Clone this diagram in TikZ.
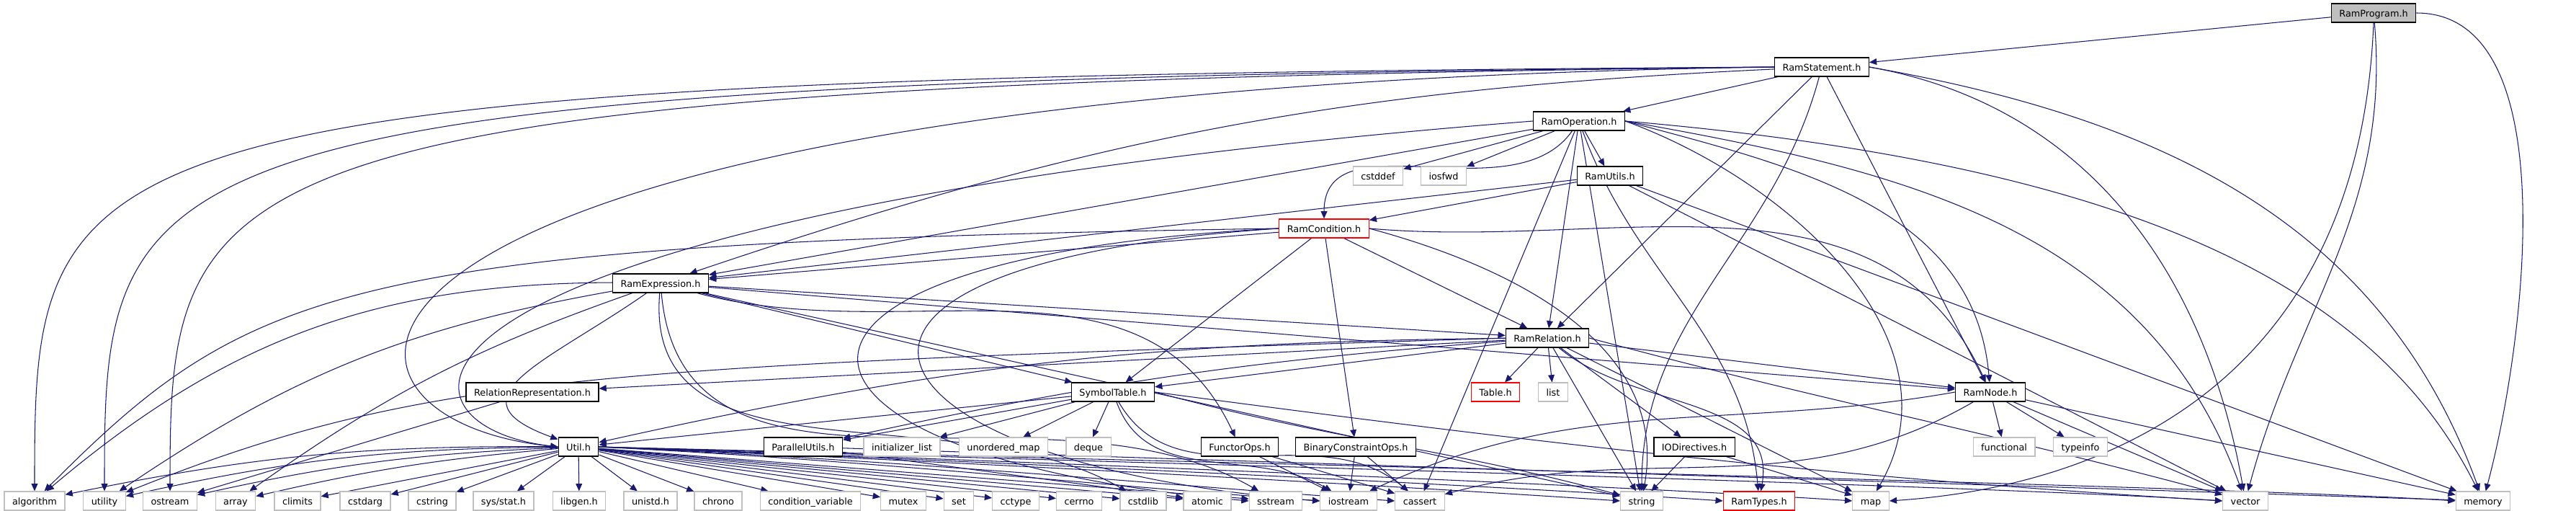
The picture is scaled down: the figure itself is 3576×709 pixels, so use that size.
\documentclass[tikz,border=0pt]{standalone}
\usepackage{fontspec}
\setmainfont{DejaVu Sans}
\usepackage{xcolor}
\usepackage{tikz}
\usetikzlibrary{arrows.meta,positioning,calc}

\definecolor{edgeblue}{RGB}{25,25,112}
\definecolor{sysgray}{RGB}{191,191,191}
\definecolor{progfill}{RGB}{191,191,191}

\pgfdeclarelayer{canvas}
\pgfdeclarelayer{edges}
\pgfsetlayers{canvas,edges,main}

\begin{document}
\begin{tikzpicture}[x=0.02cm, y=-0.02cm,
    hdr/.style={draw=black, fill=white, line width=0.7pt, minimum height=0.52cm, inner xsep=0.22cm, inner ysep=0pt, font=\fontsize{7.3}{8}\selectfont, text height=1.55ex, text depth=0.45ex},
    sys/.style={hdr, draw=sysgray},
    trunc/.style={hdr, draw=red},
    dep/.style={draw=edgeblue, line width=0.6pt, -{Triangle[length=5.8pt,width=5pt]}}]

    % Page
    \begin{pgfonlayer}{canvas}
    \fill[white] (0,0) rectangle (3576,709);
    \end{pgfonlayer}
    \useasboundingbox (0,0) rectangle (3576,709);

    % Project headers
    \node[hdr, fill=progfill] (prog) at (3295,18) {RamProgram.h};
    \node[hdr] (stmt) at (2529,93) {RamStatement.h};
    \node[hdr] (op) at (2192,168) {RamOperation.h};
    \node[hdr] (utils) at (2235,244) {RamUtils.h};
    \node[trunc] (cond) at (1838,317) {RamCondition.h};
    \node[hdr] (expr) at (917,393) {RamExpression.h};
    \node[hdr] (rel) at (2148,469) {RamRelation.h};
    \node[hdr] (relrep) at (739,544) {RelationRepresentation.h};
    \node[hdr] (symtab) at (1545,544) {SymbolTable.h};
    \node[trunc] (table) at (2076,544) {Table.h};
    \node[hdr] (ramnode) at (2763,544) {RamNode.h};
    \node[hdr] (util) at (803,620) {Util.h};
    \node[hdr] (parallel) at (1115,620) {ParallelUtils.h};
    \node[hdr] (functor) at (1721,620) {FunctorOps.h};
    \node[hdr] (binop) at (1882,620) {BinaryConstraintOps.h};
    \node[hdr] (iodir) at (2352,620) {IODirectives.h};
    \node[trunc] (ramtypes) at (2442,695) {RamTypes.h};

    % System headers
    \node[sys] (cstddef) at (1913,244) {cstddef};
    \node[sys] (iosfwd) at (2004,244) {iosfwd};
    \node[sys] (list) at (2156,544) {list};
    \node[sys] (initlist) at (1252,620) {initializer\_list};
    \node[sys] (umap) at (1393,620) {unordered\_map};
    \node[sys] (deque) at (1511,620) {deque};
    \node[sys] (functional) at (2782,620) {functional};
    \node[sys] (typeinfo) at (2888,620) {typeinfo};
    \node[sys] (alg) at (48,695) {algorithm};
    \node[sys] (utility) at (145,695) {utility};
    \node[sys] (ostream) at (236,695) {ostream};
    \node[sys] (array) at (327,695) {array};
    \node[sys] (climits) at (413,695) {climits};
    \node[sys] (cstdarg) at (507,695) {cstdarg};
    \node[sys] (cstring) at (600,695) {cstring};
    \node[sys] (sysstat) at (699,695) {sys/stat.h};
    \node[sys] (libgen) at (804,695) {libgen.h};
    \node[sys] (unistd) at (903,695) {unistd.h};
    \node[sys] (chrono) at (997,695) {chrono};
    \node[sys] (condvar) at (1125,695) {condition\_variable};
    \node[sys] (mutex) at (1254,695) {mutex};
    \node[sys] (set) at (1331,695) {set};
    \node[sys] (cctype) at (1410,695) {cctype};
    \node[sys] (cerrno) at (1498,695) {cerrno};
    \node[sys] (cstdlib) at (1587,695) {cstdlib};
    \node[sys] (atomic) at (1676,695) {atomic};
    \node[sys] (sstream) at (1771,695) {sstream};
    \node[sys] (iostream) at (1872,695) {iostream};
    \node[sys] (cassert) at (1971,695) {cassert};
    \node[sys] (string) at (2279,695) {string};
    \node[sys] (map) at (2597,695) {map};
    \node[sys] (vector) at (3117,695) {vector};
    \node[sys] (memory) at (3447,695) {memory};

    \begin{pgfonlayer}{edges}
    % RamProgram.h
    \draw[dep] (prog) -- (stmt);
    \draw[dep] (prog.south) .. controls +(-20,500) and +(300,-20) .. (map.east);
    \draw[dep] (prog) to[out=-85, in=75] (vector);
    \draw[dep] (prog.east) to[out=0, in=75, looseness=0.8] (memory);

    % RamStatement.h
    \draw[dep] (stmt) -- (op);
    \draw[dep] (stmt) to[bend right=8] (expr);
    \draw[dep] (stmt) -- (rel);
    \draw[dep] (stmt) -- (ramnode);
    \draw[dep] (stmt.west) .. controls +(-2400,15) and +(0,-500) .. (alg.north);
    \draw[dep] (stmt.west) .. controls +(-2300,20) and +(0,-480) .. (utility.north);
    \draw[dep] (stmt.west) .. controls +(-2200,25) and +(0,-460) .. (ostream.north);
    \draw[dep] (stmt.west) .. controls +(-2100,30) and +(-400,-40) .. (util.west);
    \draw[dep] (stmt) to[out=-105, in=90] (string);
    \draw[dep] (stmt.east) to[out=-10, in=100] (vector);
    \draw[dep] (stmt.east) to[out=-10, in=110] (memory);

    % RamOperation.h
    \draw[dep] (op) -- (expr);
    \draw[dep] (op.west) .. controls +(-1650,130) and +(-260,-30) .. (util.west);
    \draw[dep] (op) to[out=-125, in=90] (cond);
    \draw[dep] (op) -- (rel);
    \draw[dep] (op.east) to[out=-15, in=95] (ramnode);
    \draw[dep] (op) -- (utils);
    \draw[dep] (op) -- (cstddef);
    \draw[dep] (op) -- (iosfwd);
    \draw[dep] (op) -- (cassert);
    \draw[dep] (op) -- (string);
    \draw[dep] (op) to[out=-70, in=95] (ramtypes);
    \draw[dep] (op.east) to[out=-20, in=60] (map);
    \draw[dep] (op.east) to[out=-10, in=110] (vector);
    \draw[dep] (op.east) .. controls +(700,60) and +(-150,-300) .. (memory);

    % RamUtils.h
    \draw[dep] (utils) -- (expr);
    \draw[dep] (utils) -- (cond);
    \draw[dep] (utils) -- (vector);
    \draw[dep] (utils) -- (memory);

    % RamCondition.h
    \draw[dep] (cond) -- (expr);
    \draw[dep] (cond) -- (rel);
    \draw[dep] (cond.east) to[out=-5, in=115] (ramnode);
    \draw[dep] (cond) -- (symtab);
    \draw[dep] (cond) -- (binop);
    \draw[dep] (cond.west) .. controls +(-1300,20) and +(300,-300) .. (alg);
    \draw[dep] (cond.east) to[out=-15, in=80] (string);
    \draw[dep] (cond.west) .. controls +(-800,40) and +(-700,-60) .. (sstream.west);
    \draw[dep] (cond.west) .. controls +(-750,50) and +(-650,-50) .. (iostream.west);

    % RamExpression.h
    \draw[dep] (expr) -- (rel);
    \draw[dep] (expr) -- (ramnode);
    \draw[dep] (expr) -- (symtab);
    \draw[dep] (expr) to[out=-15, in=115] (functor);
    \draw[dep] (expr) to[out=-145, in=160, looseness=1.8] (util);
    \draw[dep] (expr) to[bend right=20] (alg);
    \draw[dep] (expr) to[bend right=12] (utility);
    \draw[dep] (expr) to[bend right=8] (array);
    \draw[dep] (expr) to[out=-95, in=150] (cstdlib);
    \draw[dep] (expr) to[out=-85, in=150] (sstream);
    \draw[dep] (expr) -- (string);

    % RamRelation.h
    \draw[dep] (rel) -- (relrep);
    \draw[dep] (rel) -- (symtab);
    \draw[dep] (rel) to[bend right=4] (parallel);
    \draw[dep] (rel) to[bend right=6] (util);
    \draw[dep] (rel.west) .. controls +(-1250,40) and +(450,-180) .. (utility);
    \draw[dep] (rel) -- (table);
    \draw[dep] (rel) -- (list);
    \draw[dep] (rel) -- (string);
    \draw[dep] (rel) -- (iodir);
    \draw[dep] (rel) -- (ramnode);
    \draw[dep] (rel) -- (map);
    \draw[dep] (rel) to[out=-40, in=80] (ramtypes);
    \draw[dep] (rel.east) to[out=-15, in=165] (vector);

    % RelationRepresentation.h
    \draw[dep] (relrep) -- (ostream);

    % SymbolTable.h
    \draw[dep] (symtab) -- (parallel);
    \draw[dep] (symtab) -- (util);
    \draw[dep] (symtab) -- (initlist);
    \draw[dep] (symtab) -- (umap);
    \draw[dep] (symtab) -- (deque);
    \draw[dep] (symtab) to[out=-70, in=150] (iostream);
    \draw[dep] (symtab) to[out=-60, in=140] (cassert);
    \draw[dep] (symtab.east) to[out=-15, in=165] (string);
    \draw[dep] (symtab.east) .. controls +(600,80) and +(-500,-30) .. (vector.west);

    % ParallelUtils.h
    \draw[dep] (parallel) -- (atomic);
    \draw[dep] (parallel) -- (memory);

    % FunctorOps.h, BinaryConstraintOps.h, IODirectives.h
    \draw[dep] (functor) -- (iostream);
    \draw[dep] (functor) -- (cassert);
    \draw[dep] (binop) -- (iostream);
    \draw[dep] (binop) -- (cassert);
    \draw[dep] (iodir) -- (string);
    \draw[dep] (iodir) -- (map);

    % RamNode.h
    \draw[dep] (ramnode) -- (functional);
    \draw[dep] (ramnode) -- (typeinfo);
    \draw[dep] (ramnode) -- (vector);
    \draw[dep] (ramnode) -- (memory);
    \draw[dep] (ramnode.west) to[out=190, in=25] (iostream);
    \draw[dep] (ramnode) to[out=-150, in=15] (cassert);

    % Util.h
    \draw[dep] (util) to[bend right=6] (alg);
    \draw[dep] (util) to[bend right=6] (utility);
    \draw[dep] (util) to[bend right=5] (ostream);
    \draw[dep] (util) to[bend right=4] (array);
    \draw[dep] (util) -- (climits);
    \draw[dep] (util) -- (cstdarg);
    \draw[dep] (util) -- (cstring);
    \draw[dep] (util) -- (sysstat);
    \draw[dep] (util) -- (libgen);
    \draw[dep] (util) -- (unistd);
    \draw[dep] (util) -- (chrono);
    \draw[dep] (util) -- (condvar);
    \draw[dep] (util) -- (mutex);
    \draw[dep] (util) -- (set);
    \draw[dep] (util) -- (cctype);
    \draw[dep] (util) -- (cerrno);
    \draw[dep] (util) -- (cstdlib);
    \draw[dep] (util) -- (atomic);
    \draw[dep] (util) -- (sstream);
    \draw[dep] (util.east) .. controls +(400,20) and +(-300,-20) .. (iostream.west);
    \draw[dep] (util.east) .. controls +(450,20) and +(-300,-20) .. (cassert.west);
    \draw[dep] (util.east) .. controls +(500,20) and +(-300,-20) .. (string.west);
    \draw[dep] (util.east) .. controls +(550,20) and +(-300,-20) .. (ramtypes.west);
    \draw[dep] (util.east) .. controls +(600,20) and +(-300,-20) .. (map.west);
    \draw[dep] (util.east) .. controls +(700,20) and +(-300,-20) .. (vector.west);
    \draw[dep] (util.east) .. controls +(800,20) and +(-300,-20) .. (memory.west);
    \end{pgfonlayer}
\end{tikzpicture}
\end{document}
